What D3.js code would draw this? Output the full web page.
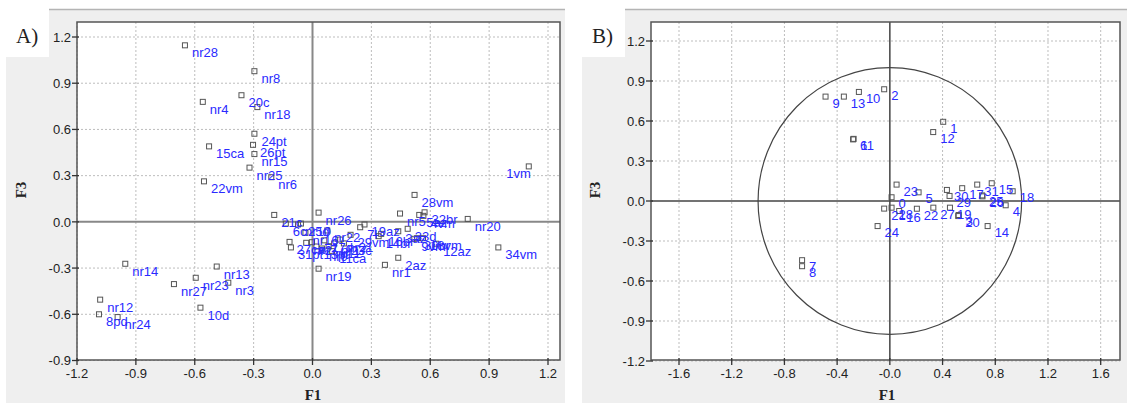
<!DOCTYPE html>
<html><head><meta charset="utf-8">
<script src="https://cdn.jsdelivr.net/npm/d3@7"></script>
<style>body{margin:0;background:#fff}svg{display:block}</style>
</head><body><svg id="c" width="1127" height="403"></svg>
<script>
// ---- Panel A data (observations) ----
const labelsA = ["nr28","nr8","20c","nr4","nr18","24pt","26pt","15ca","nr15","nr25","nr6","22vm","1vm",
  "nr14","nr27","nr23","nr13","nr3","10d","nr12","8pd","nr24",
  "28vm","nr5","5az","32br","4vm","nr20","34vm","nr1","2az","12az","9vm","33d","30br","18vm","3az","16br","14br",
  "29vm","7l","19az","nr26","nr19","21c","6c","25d","nr10","nr16","27ca","31pt","nr2","nr7","nr22","nr9","nr21",
  "nr11","nr17","17d","13pt","11ca","23c"];
const f1A = [-0.65,-0.296,-0.362,-0.559,-0.281,-0.296,-0.303,-0.527,-0.296,-0.321,-0.21,-0.553,1.102,
  -0.954,-0.706,-0.595,-0.488,-0.429,-0.571,-1.082,-1.088,-0.993,
  0.52,0.446,0.544,0.571,0.565,0.791,0.947,0.369,0.437,0.63,0.519,0.485,0.533,0.563,0.437,0.35,0.337,
  0.194,0.243,0.265,0.031,0.031,-0.195,-0.136,-0.059,-0.074,-0.036,-0.117,-0.11,-0.032,-0.003,0.075,0.048,0.141,
  0.082,0.11,0.06,0.02,0.1,0.16];
const f3A = [1.146,0.978,0.822,0.779,0.745,0.572,0.5,0.49,0.44,0.352,0.29,0.263,0.36,
  -0.272,-0.404,-0.363,-0.29,-0.395,-0.557,-0.505,-0.6,-0.618,
  0.175,0.054,0.045,0.062,0.039,0.019,-0.166,-0.279,-0.233,-0.142,-0.11,-0.045,-0.106,-0.106,-0.061,-0.078,-0.093,
  -0.084,-0.035,-0.017,0.06,-0.304,0.045,-0.011,-0.011,-0.017,-0.071,-0.13,-0.166,-0.136,-0.132,-0.056,-0.173,-0.115,
  -0.158,-0.14,-0.12,-0.16,-0.19,-0.14];
const xTicksA = [-1.2,-0.9,-0.6,-0.3,0,0.3,0.6,0.9,1.2];
const xTickLabelsA = ["-1.2","-0.9","-0.6","-0.3","0.0","0.3","0.6","0.9","1.2"];
const yTicksA = [1.2,0.9,0.6,0.3,0,-0.3,-0.6,-0.9];
const yTickLabelsA = ["1.2","0.9","0.6","0.3","0.0","-0.3","-0.6","-0.9"];

// ---- Panel B data (variables) ----
const labelsB = ["9","13","10","2","6","11","1","12","23","5","0","30","29","17","31","15","18","25","26","4",
  "14","20","3","19","27","22","16","24","21","28","7","8"];
const f1B = [-0.488,-0.349,-0.235,-0.043,-0.279,-0.275,0.405,0.329,0.051,0.218,0.013,0.433,0.453,0.549,0.663,0.773,0.932,0.7,0.703,0.879,
  0.742,0.519,0.522,0.456,0.33,0.205,0.071,-0.093,-0.043,0.013,-0.666,-0.666];
const f3B = [0.783,0.783,0.818,0.838,0.462,0.466,0.594,0.517,0.123,0.065,0.028,0.083,0.038,0.096,0.123,0.133,0.073,0.042,0.035,-0.032,
  -0.188,-0.113,-0.105,-0.05,-0.05,-0.058,-0.075,-0.188,-0.057,-0.05,-0.444,-0.489];
const xTicksB = [-1.6,-1.2,-0.8,-0.4,0,0.4,0.8,1.2,1.6];
const xTickLabelsB = ["-1.6","-1.2","-0.8","-0.4","-0.0","0.4","0.8","1.2","1.6"];
const yTicksB = [1.2,0.9,0.6,0.3,0,-0.3,-0.6,-0.9,-1.2];
const yTickLabelsB = ["1.2","0.9","0.6","0.3","0.0","-0.3","-0.6","-0.9","-1.2"];

const svg = d3.select('#c');
const SANS = '"Liberation Sans", Arial, sans-serif';
const SERIF = '"Liberation Serif", "Times New Roman", serif';

function panel(o){
  const g = svg.append('g');
  g.append('rect').attr('x',o.bx).attr('y',10).attr('width',o.bw).attr('height',393).attr('fill','#efefef');
  g.append('line').attr('x1',o.bx+43).attr('x2',o.bx+o.bw).attr('y1',9.5).attr('y2',9.5)
    .attr('stroke','#b4b4b4').attr('stroke-width',1.5);
  g.append('rect').attr('x',o.bx).attr('y',8).attr('width',43).attr('height',49).attr('fill','#fff');
  g.append('text').attr('x',o.bx+10).attr('y',43).attr('font-family',SERIF).attr('font-size',21)
    .attr('fill','#222').text(o.tag);

  const x = d3.scaleLinear().domain(o.xd).range(o.xr);
  const y = d3.scaleLinear().domain(o.yd).range(o.yr);
  const L=o.L, R=o.R, T=22, B=360;
  g.append('rect').attr('x',L).attr('y',T).attr('width',R-L).attr('height',B-T).attr('fill','#fff');
  const grid = g.append('g').attr('stroke','#bdbdbd').attr('stroke-width',1).attr('stroke-dasharray','2,2');
  o.xt.forEach(t=>{ if(t!==0) grid.append('line').attr('x1',x(t)).attr('x2',x(t)).attr('y1',T).attr('y2',B); });
  o.yt.forEach(t=>{ if(t!==0) grid.append('line').attr('x1',L).attr('x2',R).attr('y1',y(t)).attr('y2',y(t)); });
  g.append('line').attr('x1',L).attr('x2',R).attr('y1',y(0)).attr('y2',y(0)).attr('stroke',o.zc).attr('stroke-width',o.zw);
  g.append('line').attr('x1',x(0)).attr('x2',x(0)).attr('y1',T).attr('y2',B).attr('stroke',o.zc).attr('stroke-width',o.zw);
  if(o.circle){
    g.append('ellipse').attr('cx',x(0)).attr('cy',y(0)).attr('rx',x(1)-x(0)).attr('ry',y(0)-y(1))
      .attr('fill','none').attr('stroke','#444').attr('stroke-width',1.2);
  }
  g.append('rect').attr('x',L).attr('y',T).attr('width',R-L).attr('height',B-T).attr('fill','none')
    .attr('stroke','#555').attr('stroke-width',1.5);
  o.xt.forEach((t,i)=>{
    g.append('line').attr('x1',x(t)).attr('x2',x(t)).attr('y1',B-2).attr('y2',B+5).attr('stroke','#333').attr('stroke-width',1.3);
    g.append('text').attr('x',x(t)).attr('y',B+18).attr('text-anchor','middle').attr('font-family',SANS)
      .attr('font-size',13).attr('fill','#222').text(o.xl[i]);
  });
  o.yt.forEach((t,i)=>{
    g.append('line').attr('x1',L-5).attr('x2',L+2).attr('y1',y(t)).attr('y2',y(t)).attr('stroke','#333').attr('stroke-width',1.3);
    g.append('text').attr('x',L-6).attr('y',y(t)).attr('dy','0.36em').attr('text-anchor','end').attr('font-family',SANS)
      .attr('font-size',13).attr('fill','#222').text(o.yl[i]);
  });
  g.append('text').attr('x',o.f1x).attr('y',400).attr('text-anchor','middle').attr('font-family',SERIF)
    .attr('font-weight','bold').attr('font-size',15).attr('fill','#222').text('F1');
  g.append('text').attr('transform',`translate(${o.f3x},190) rotate(-90)`).attr('text-anchor','middle')
    .attr('font-family',SERIF).attr('font-weight','bold').attr('font-size',15).attr('fill','#222').text('F3');
  const data = o.labels.map((l,i)=>({l, a:o.f1[i], b:o.f3[i]}));
  const flip = d => x(d.a)+7+d.l.length*o.fs*0.7 > R-2;
  g.append('g').selectAll('rect').data(data).join('rect')
    .attr('x',d=>x(d.a)-2.5).attr('y',d=>y(d.b)-2.5).attr('width',5).attr('height',5)
    .attr('fill','none').attr('stroke','#555').attr('stroke-width',1);
  g.append('g').selectAll('text').data(data).join('text')
    .attr('font-family',SANS).attr('font-size',o.fs).attr('fill','#2a2aff')
    .attr('x',d=> flip(d) ? x(d.a)+2 : x(d.a)+7)
    .attr('text-anchor',d=> flip(d) ? 'end' : 'start')
    .attr('y',d=>y(d.b)+o.dy)
    .text(d=>d.l);
}

panel({bx:6,bw:559,tag:'A)',xd:[-1.2,1.2],xr:[77,548],yd:[-0.9,1.2],yr:[360.5,37],L:77,R:560,
  xt:xTicksA,xl:xTickLabelsA,yt:yTicksA,yl:yTickLabelsA,zc:'#888',zw:2,circle:false,
  f1x:313,f3x:26,labels:labelsA,f1:f1A,f3:f3A,fs:13,dy:12});
panel({bx:582,bw:545,tag:'B)',xd:[-1.6,1.6],xr:[679,1100.7],yd:[-1.2,1.2],yr:[361,41],L:651,R:1120,
  xt:xTicksB,xl:xTickLabelsB,yt:yTicksB,yl:yTickLabelsB,zc:'#444',zw:1.5,circle:true,
  f1x:887,f3x:600,labels:labelsB,f1:f1B,f3:f3B,fs:13,dy:11});
</script></body></html>
